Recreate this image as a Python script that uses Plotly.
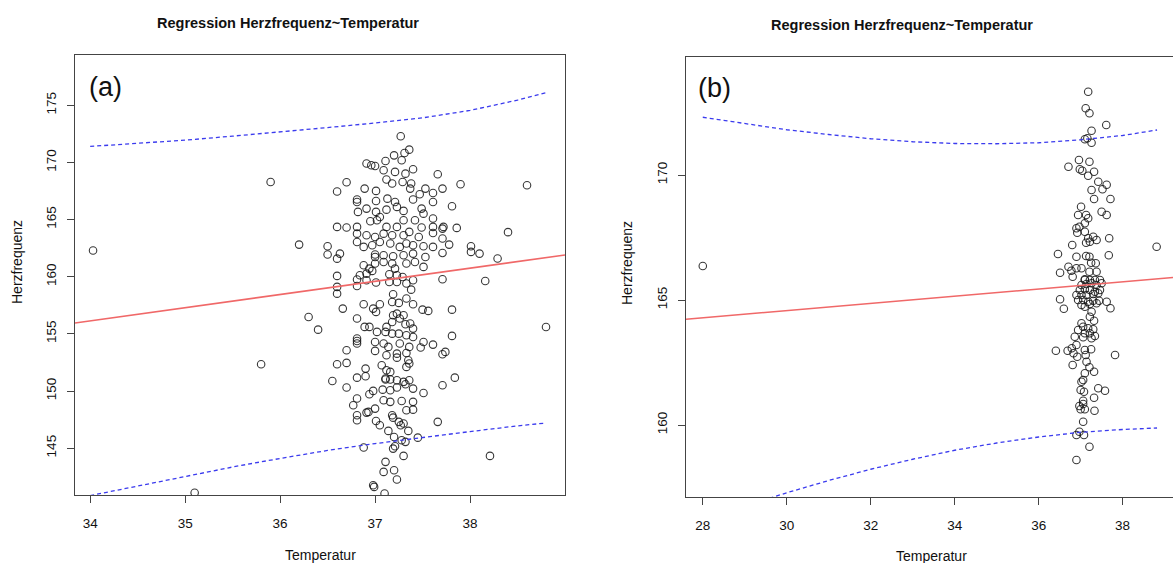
import plotly.graph_objects as go

# ---------------- Panel (a) data ----------------
a_temp = [
    37.27, 37.20, 37.31, 37.36, 37.28, 36.91, 36.96, 37.00, 37.11, 37.09, 37.21, 37.32, 37.40, 37.66, 37.90,
    35.90, 36.70, 36.60, 36.89, 37.01, 37.12, 37.18, 37.29, 37.37, 37.38, 37.53, 37.61, 37.71,
    36.81, 36.81, 37.01, 37.13, 37.21, 37.40, 37.47, 37.61, 37.81,
    36.82, 36.91, 37.01, 37.05, 37.12, 37.23, 37.30, 37.49, 37.51, 37.61, 37.72, 37.86,
    36.60, 36.70, 36.81, 36.95, 37.02, 37.12, 37.23, 37.30, 37.42, 37.49, 37.61, 37.71,
    36.81, 36.91, 37.00, 37.09, 37.18, 37.30, 37.36, 37.46, 37.61,
    36.81, 36.88, 36.97, 37.05, 37.16, 37.26, 37.33, 37.40, 37.51, 37.61, 37.71, 37.78, 38.01, 38.01, 38.10,
    36.20, 36.50, 36.50, 36.63, 36.60, 37.00, 37.00, 37.09, 37.19, 37.30, 37.40, 37.53, 37.71,
    36.88, 36.94, 37.00, 37.09, 37.18, 37.21, 37.33, 37.42, 37.51,
    36.60, 36.84, 36.91, 36.97, 37.15, 37.23, 37.29,
    36.81, 36.81, 36.91, 37.01, 37.15, 37.23, 37.33, 37.40, 37.71, 38.16,
    36.60, 36.60, 37.19, 37.38, 37.33,
    36.30, 36.40, 36.66, 36.81, 36.88, 36.98, 37.01, 37.05, 37.18, 37.25, 37.40, 37.50, 37.56, 37.81,
    36.89, 36.94, 37.02, 37.12, 37.11, 37.18, 37.19, 37.23, 37.26, 37.30, 37.32, 37.37, 37.40,
    37.18, 37.25, 37.33, 37.40, 37.51, 37.61, 37.81,
    36.81, 36.81, 36.81, 37.00, 37.09, 37.14, 37.26, 37.36, 37.48,
    36.70, 37.00, 37.12, 37.23, 37.33, 37.23, 37.35, 37.36, 37.74, 37.71,
    35.80, 36.60, 36.70, 36.90, 37.07, 37.12, 37.16, 37.33,
    37.11, 37.11, 37.16, 37.23, 37.30, 37.36, 36.81, 36.90, 36.55, 36.70,
    37.08, 37.16, 37.23, 37.32, 37.40, 37.51, 37.71, 37.84, 36.94, 36.98,
    36.81, 36.77, 37.09, 37.16, 37.28, 37.40, 37.40, 37.33, 36.91, 36.93, 37.00,
    36.81, 36.81, 37.18, 37.19, 37.25, 37.30, 37.27, 37.01, 37.05, 37.14, 37.35, 37.66,
    36.88, 37.20, 37.28, 37.32, 37.45, 37.19, 37.21, 37.30, 37.11, 37.09, 37.20, 37.23,
    36.98, 36.99, 37.10, 38.21,
    34.03, 35.10, 38.60, 38.40, 38.29, 38.80,
]
a_hr = [
    172.29, 170.62, 170.83, 171.12, 170.19, 169.90, 169.75, 169.69, 170.13, 169.31, 169.17, 169.02, 169.40, 168.96, 168.09,
    168.29, 168.26, 167.45, 167.71, 167.51, 168.50, 168.15, 168.29, 167.71, 168.15, 167.71, 167.33, 167.71,
    166.75, 166.54, 166.63, 166.83, 166.54, 166.75, 167.21, 166.54, 166.16,
    165.67, 165.96, 165.67, 165.23, 165.87, 166.11, 165.76, 165.96, 165.52, 165.09, 164.36, 164.27,
    164.36, 164.30, 164.36, 164.85, 164.94, 164.36, 164.36, 164.94, 164.94, 164.30, 164.36, 164.21,
    163.77, 163.63, 163.48, 163.77, 163.63, 163.63, 163.92, 163.48, 163.83,
    163.04, 162.61, 162.75, 163.04, 162.90, 162.61, 162.90, 162.75, 162.66, 162.61, 163.34, 162.81, 162.66, 162.17, 162.02,
    162.81, 162.66, 161.94, 162.02, 161.58, 161.94, 161.73, 161.88, 161.79, 161.88, 162.02, 161.73, 162.08,
    161.00, 160.71, 161.15, 161.29, 161.15, 160.71, 161.15, 161.29, 160.86,
    160.07, 160.13, 160.27, 160.51, 160.21, 160.13, 159.98,
    159.75, 159.19, 159.69, 159.49, 159.54, 159.54, 159.40, 159.69, 159.78, 159.63,
    159.11, 158.52, 158.46, 158.87, 158.09,
    156.48, 155.37, 157.21, 156.34, 157.59, 157.21, 156.92, 157.59, 157.79, 157.71, 157.59, 157.12, 157.01, 157.12,
    155.61, 155.61, 155.17, 155.61, 155.17, 156.04, 156.63, 156.77, 156.34, 156.63, 155.84, 155.90, 155.46,
    155.02, 155.02, 154.88, 154.73, 154.29, 154.06, 154.82,
    154.59, 154.38, 154.15, 154.29, 154.15, 153.86, 154.15, 153.86, 153.80,
    153.57, 153.51, 153.13, 153.27, 153.33, 152.92, 152.69, 152.40, 153.42, 153.22,
    152.34, 152.34, 152.46, 151.96, 152.25, 151.82, 151.67, 152.11,
    151.09, 151.00, 151.00, 150.94, 150.80, 150.94, 151.17, 151.29, 150.88, 150.30,
    150.12, 150.07, 150.30, 150.59, 150.21, 149.83, 150.50, 151.17, 149.72, 150.01,
    149.34, 148.75, 149.19, 149.05, 149.13, 149.05, 148.37, 148.32, 148.11, 148.17, 148.46,
    147.88, 147.44, 147.88, 147.67, 147.30, 147.15, 147.00, 147.38, 147.00, 146.51, 146.51, 147.30,
    145.05, 145.98, 145.69, 145.55, 145.92, 144.96, 145.17, 144.32, 143.80, 142.92, 143.07, 142.25,
    141.75, 141.61, 141.03, 144.32,
    162.30, 141.10, 168.00, 163.90, 161.60, 155.60,
]

# regression line and prediction band, panel (a)
a_fit_x = [33.84, 39.0]
a_fit_y = [155.95, 161.9]
a_band_x = [34.0, 34.5, 35.0, 35.5, 36.0, 36.5, 37.0, 37.5, 38.0, 38.5, 38.8]
a_upper = [171.4, 171.65, 171.95, 172.3, 172.65, 173.05, 173.45, 173.9, 174.55, 175.45, 176.1]
a_lower = [140.85, 141.7, 142.55, 143.35, 144.1, 144.8, 145.4, 145.95, 146.45, 146.95, 147.2]

# ---------------- Panel (b) data ----------------
b_temp = [
    37.18, 37.12, 37.21, 37.61, 37.26, 37.10, 37.26, 37.16, 36.96, 37.21, 36.71, 36.98, 37.04, 37.32, 37.18,
    37.42, 37.62, 37.52, 37.26, 37.32, 37.71, 37.01, 37.50, 37.62, 36.94, 37.13, 37.18, 37.10, 36.97, 36.90,
    36.92, 37.10, 37.30, 37.18, 37.13, 37.22, 37.38, 37.68, 36.80, 38.81, 36.46, 36.90, 37.13, 37.21, 37.67,
    37.36, 37.25, 36.71, 36.90, 37.02, 36.78, 36.51, 36.81, 37.21, 37.38, 37.10,
    37.10, 37.22, 37.34, 37.46, 37.02, 37.14, 37.26, 37.38, 37.50, 36.98, 37.10, 37.22, 37.34, 37.46,
    36.90, 37.02, 37.14, 37.30, 37.42, 36.94, 37.06, 37.18, 37.30, 37.44, 37.62, 36.51, 36.60, 37.71,
    37.02, 37.10, 37.22, 37.38, 37.26, 37.22, 37.32, 37.02, 37.06, 37.18, 37.30, 36.94, 37.10, 37.22,
    37.34, 36.86, 37.06, 37.26,
    36.41, 36.69, 36.79, 36.83, 36.90, 36.92, 37.10, 37.12, 37.25, 37.82, 36.81, 37.14, 37.21, 37.32,
    37.10, 37.06, 37.02, 37.00, 37.08, 37.42, 37.58, 37.32, 37.06, 36.97, 37.06, 37.10, 37.00, 37.33,
    37.06, 36.97, 36.90, 37.08, 37.21, 36.90,
    28.00,
]
b_hr = [
    173.33, 172.67, 172.47, 172.00, 171.77, 171.43, 171.29, 171.47, 170.60, 170.53, 170.33, 170.23, 170.17, 170.13, 169.97,
    169.73, 169.61, 169.43, 169.40, 169.04, 169.04, 168.73, 168.53, 168.40, 168.40, 168.40, 168.27, 168.07, 167.93, 167.87,
    167.69, 167.73, 167.53, 167.47, 167.29, 167.33, 167.40, 167.47, 167.20, 167.13, 166.84, 166.73, 166.76, 166.73, 166.79,
    166.47, 166.49, 166.33, 166.27, 166.27, 166.17, 166.09, 165.93, 166.13, 166.13, 165.83,
    165.80, 165.80, 165.80, 165.80, 165.60, 165.64, 165.67, 165.60, 165.67, 165.40, 165.43, 165.40, 165.33, 165.40,
    165.20, 165.20, 165.20, 165.24, 165.27, 165.00, 165.00, 164.93, 164.97, 164.97, 164.93, 165.03, 164.65, 164.67,
    164.80, 164.73, 164.84, 164.87, 164.53, 164.33, 164.17, 164.07, 163.93, 163.87, 163.83, 163.80, 163.67, 163.67,
    163.56, 163.53, 163.51, 163.47,
    162.97, 162.97, 163.07, 162.87, 163.20, 162.73, 163.00, 162.80, 163.03, 162.80, 162.40, 162.53, 162.31, 162.13,
    162.07, 161.80, 161.73, 161.40, 161.33, 161.47, 161.37, 161.09, 160.97, 160.76, 160.84, 160.63, 160.63, 160.57,
    160.13, 159.73, 159.60, 159.60, 159.13, 158.60,
    166.36,
]

b_fit_x = [27.6, 39.2]
b_fit_y = [164.23, 165.9]
b_band_x = [28.0, 29.0, 30.0, 31.0, 32.0, 33.0, 34.0, 35.0, 36.0, 37.0, 38.0, 38.82]
b_upper = [172.31, 172.05, 171.81, 171.62, 171.45, 171.33, 171.26, 171.25, 171.29, 171.41, 171.58, 171.80]
b_lower = [156.21, 156.75, 157.29, 157.78, 158.23, 158.63, 158.99, 159.28, 159.52, 159.71, 159.82, 159.88]

# ---------------- figure ----------------
W, H = 1173, 563
FONT = "Liberation Sans, Arial, Helvetica, sans-serif"
MARK = dict(symbol="circle-open", size=7.5, color="rgba(20,20,20,0.85)", line=dict(width=1.1))
RED = "#f06868"
BLUE = "#3b3bee"

fig = go.Figure()

def add_panel(xa, ya, tx, hy, fx, fy, bx, bu, bl):
    fig.add_trace(go.Scatter(x=tx, y=hy, mode="markers", marker=MARK, xaxis=xa, yaxis=ya,
                             showlegend=False, hoverinfo="skip"))
    fig.add_trace(go.Scatter(x=fx, y=fy, mode="lines", line=dict(color=RED, width=1.6),
                             xaxis=xa, yaxis=ya, showlegend=False, hoverinfo="skip"))
    for yy in (bu, bl):
        fig.add_trace(go.Scatter(x=bx, y=yy, mode="lines", line=dict(color=BLUE, width=1.3, dash="4px,3px"),
                                 xaxis=xa, yaxis=ya, showlegend=False, hoverinfo="skip"))

add_panel("x", "y", a_temp, a_hr, a_fit_x, a_fit_y, a_band_x, a_upper, a_lower)
add_panel("x2", "y2", b_temp, b_hr, b_fit_x, b_fit_y, b_band_x, b_upper, b_lower)

axis_common = dict(showgrid=False, zeroline=False, showline=True, linecolor="#444", linewidth=1,
                   ticks="outside", ticklen=7, tickcolor="#444", tickwidth=1,
                   tickfont=dict(family=FONT, size=13.5, color="#111"))

fig.update_layout(
    width=W, height=H, autosize=False,
    margin=dict(l=0, r=0, t=0, b=0),
    paper_bgcolor="white", plot_bgcolor="white",
    xaxis=dict(domain=[75 / W, 565 / W], range=[33.84, 39.0], tickvals=[34, 35, 36, 37, 38],
               mirror=True, anchor="y", ticklabelstandoff=9, **axis_common),
    yaxis=dict(domain=[68 / H, 508 / H], range=[140.9, 179.4], tickvals=[145, 150, 155, 160, 165, 170, 175],
               mirror=True, anchor="x", tickangle=-90, ticklabelstandoff=6, **axis_common),
    xaxis2=dict(domain=[686 / W, 1.0], range=[27.6, 39.2], tickvals=[28, 30, 32, 34, 36, 38],
                mirror=True, anchor="y2", ticklabelstandoff=9, **axis_common),
    yaxis2=dict(domain=[66 / H, 506 / H], range=[157.12, 174.72], tickvals=[160, 165, 170],
                mirror=False, anchor="x2", tickangle=-90, ticklabelstandoff=6, **axis_common),
)

def ann(text, px, py, size, bold=False, angle=0):
    fig.add_annotation(text=("<b>%s</b>" % text) if bold else text, x=px / W, y=1 - py / H,
                       xref="paper", yref="paper", showarrow=False, textangle=angle,
                       xanchor="center", yanchor="middle",
                       font=dict(family=FONT, size=size, color="#111"))

ann("Regression Herzfrequenz~Temperatur", 288, 23, 14.5, bold=True)
ann("Regression Herzfrequenz~Temperatur", 902, 25, 14.5, bold=True)
ann("Temperatur", 320, 555, 14)
ann("Temperatur", 931, 556, 14)
ann("Herzfrequenz", 17, 262, 14, angle=-90)
ann("Herzfrequenz", 627, 263, 14, angle=-90)
ann("(a)", 105, 87, 27)
ann("(b)", 714, 88, 27)

fig.write_html("out.html")
